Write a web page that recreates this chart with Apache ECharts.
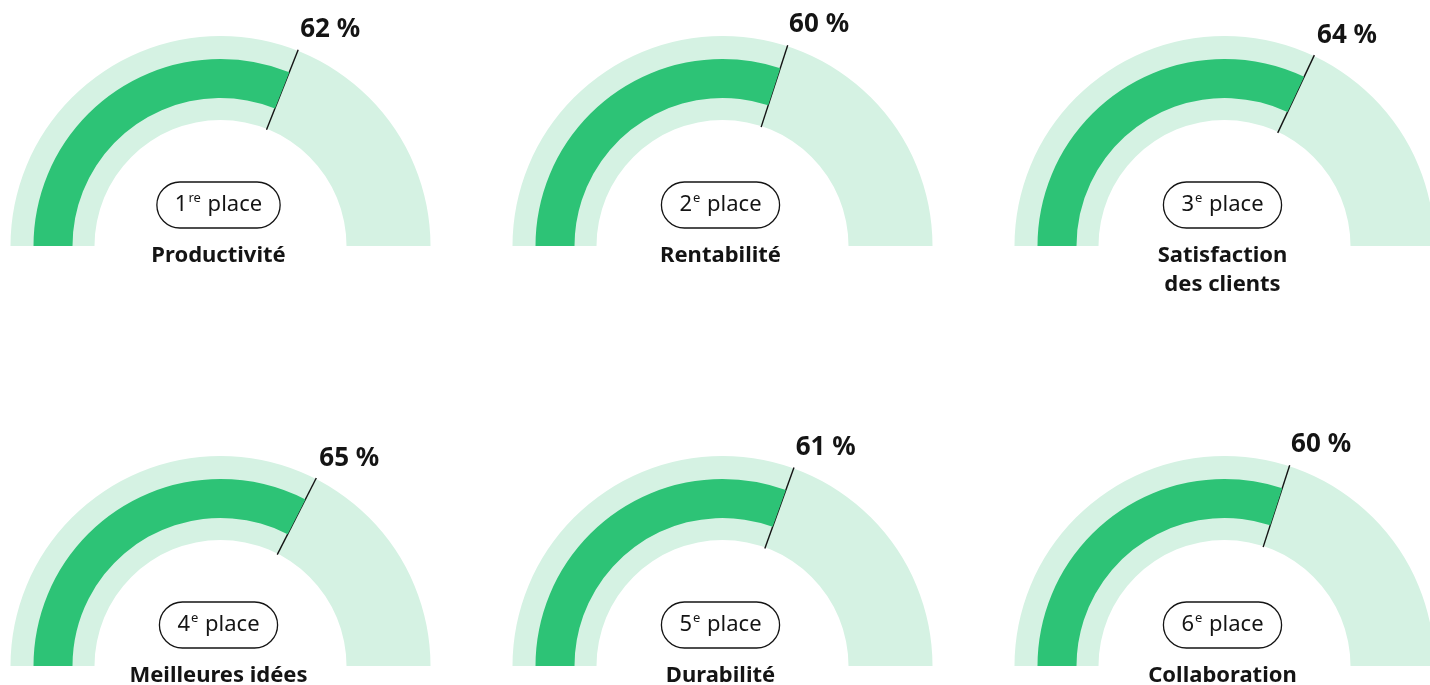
<!DOCTYPE html>
<html>
<head>
<meta charset="utf-8">
<title>Classement</title>
<script src="https://cdn.jsdelivr.net/npm/echarts@6/dist/echarts.min.js"></script>
<style>
  html, body { margin: 0; padding: 0; background: #fff; }
  #chart { width: 1430px; height: 685px; }
</style>
</head>
<body>
<div id="chart"></div>
<script>
// données
var categories = ["Productivité", "Rentabilité", "Satisfaction\ndes clients", "Meilleures idées", "Durabilité", "Collaboration"];
var values = [62, 60, 64, 65, 61, 60];
var ranks = ["1", "2", "3", "4", "5", "6"];
var rankSuffix = ["re", "e", "e", "e", "e", "e"];

// mise en page
var colCenters = [220.5, 722.5, 1224.5];
var rowCenters = [246, 666];

var lightGreen = "#d5f2e3";
var darkGreen = "#2dc376";
var ink = "#141414";

var chart = echarts.init(document.getElementById("chart"));
var series = [];

values.forEach(function (v, i) {
  var center = [colCenters[i % 3], rowCenters[Math.floor(i / 3)]];
  var angle = Math.PI * (1 - v / 100);
  var lines = categories[i].split("\n").length;

  // fond clair + étiquette % + nom
  series.push({
    type: "gauge",
    center: center,
    radius: 210,
    startAngle: 180,
    endAngle: 0,
    min: 0,
    max: 100,
    axisLine: { lineStyle: { width: 84, color: [[1, lightGreen]] } },
    axisTick: { show: false },
    splitLine: { show: false },
    axisLabel: { show: false },
    pointer: { show: false },
    anchor: { show: false },
    title: {
      offsetCenter: [-2, 10 + (lines - 1) * 14.5],
      color: ink,
      fontFamily: "Noto Sans",
      fontSize: 22,
      fontWeight: "bold",
      lineHeight: 29
    },
    detail: {
      formatter: "{value} %",
      color: ink,
      fontFamily: "Noto Sans",
      fontSize: 26,
      fontWeight: "bold"
    },
    data: [{
      value: v,
      name: categories[i],
      detail: { offsetCenter: [222 * Math.cos(angle) + 28, -222 * Math.sin(angle) - 10] }
    }]
  });

  // barre de progression + trait + pastille
  series.push({
    type: "gauge",
    center: center,
    radius: 187,
    startAngle: 180,
    endAngle: 0,
    min: 0,
    max: 100,
    axisLine: { show: false },
    progress: { show: true, width: 39, itemStyle: { color: darkGreen } },
    axisTick: { show: false },
    splitLine: { show: false },
    axisLabel: { show: false },
    pointer: {
      icon: "rect",
      width: 1.4,
      length: 86,
      offsetCenter: [0, -125],
      itemStyle: { color: ink }
    },
    anchor: { show: false },
    title: {
      offsetCenter: [-2, -41],
      color: ink,
      fontFamily: "Noto Sans",
      fontSize: 22,
      lineHeight: 26,
      padding: [10, 18, 10, 18],
      borderColor: ink,
      borderWidth: 1.3,
      borderRadius: 23,
      rich: {
        sup: { fontFamily: "Noto Sans", fontSize: 13, color: ink, verticalAlign: "top", lineHeight: 14, padding: [0, 1, 0, 1] }
      }
    },
    detail: { show: false },
    data: [{ value: v, name: ranks[i] + "{sup|" + rankSuffix[i] + "} place" }]
  });
});

chart.setOption({ animation: false, series: series });
</script>
</body>
</html>
